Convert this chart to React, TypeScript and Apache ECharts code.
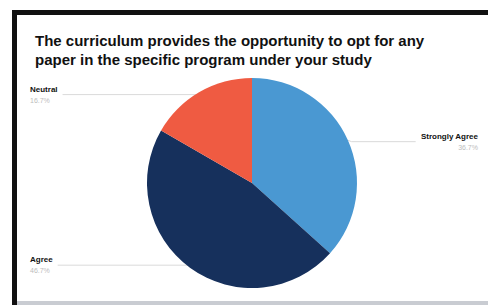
import React, { useEffect, useRef } from "react";
import * as echarts from "echarts";

const titleText =
  "The curriculum provides the opportunity to opt for any\npaper in the specific program under your study";
const categories = ["Strongly Agree", "Agree", "Neutral"];
const counts = [11, 14, 5];
const colors = ["#4a98d2", "#16305c", "#ef5b42"];
const labelShift = [3, -6, 6];

export default function App() {
  const ref = useRef<HTMLDivElement>(null);
  useEffect(() => {
    if (!ref.current) return;
    const chart = echarts.init(ref.current, null, { renderer: "svg" });
    chart.setOption({
      animation: false,
      backgroundColor: "#ffffff",
      title: {
        text: titleText,
        left: 30,
        top: 26,
        textStyle: {
          fontFamily: "Liberation Sans, Arial, sans-serif",
          fontWeight: "bold",
          fontSize: 15,
          lineHeight: 19,
          color: "#111111",
        },
      },
      graphic: [
        { type: "rect", shape: { x: 12, y: 10, width: 476, height: 5 }, style: { fill: "#111111" } },
        { type: "rect", shape: { x: 12, y: 10, width: 5, height: 295 }, style: { fill: "#111111" } },
        { type: "rect", shape: { x: 17, y: 301, width: 471, height: 4 }, style: { fill: "#c9ccd2" } },
      ],
      series: [
        {
          type: "pie",
          left: 20,
          top: 0,
          right: 0,
          bottom: 0,
          center: [232, 183],
          radius: 105,
          startAngle: 90,
          clockwise: true,
          data: categories.map((c, i) => ({
            name: c,
            value: counts[i],
            itemStyle: { color: colors[i] },
          })),
          label: {
            alignTo: "edge",
            edgeDistance: 10,
            formatter: (p: any) => `{n|${p.name}}\n{p|${p.percent.toFixed(1)}%}`,
            rich: {
              n: {
                fontFamily: "Liberation Sans, Arial, sans-serif",
                fontWeight: "bold",
                fontSize: 8,
                color: "#111111",
                lineHeight: 11,
              },
              p: {
                fontFamily: "Liberation Sans, Arial, sans-serif",
                fontSize: 7,
                color: "#bdbdbd",
                lineHeight: 11,
              },
            },
          },
          labelLine: {
            length: 4,
            length2: 10,
            lineStyle: { color: "#dadada", width: 1 },
          },
          labelLayout: (params: any) => {
            const dy = labelShift[params.dataIndex];
            const pts = params.labelLinePoints;
            const res: any = { dy };
            if (pts && pts.length === 3) {
              res.labelLinePoints = [
                [pts[0][0], pts[0][1]],
                [pts[1][0], pts[1][1] + dy],
                [pts[2][0], pts[2][1] + dy],
              ];
            }
            return res;
          },
        },
      ],
    });
    return () => chart.dispose();
  }, []);
  return (
    <div
      ref={ref}
      style={{ position: "fixed", left: 0, top: 0, width: 488, height: 305 }}
    />
  );
}
